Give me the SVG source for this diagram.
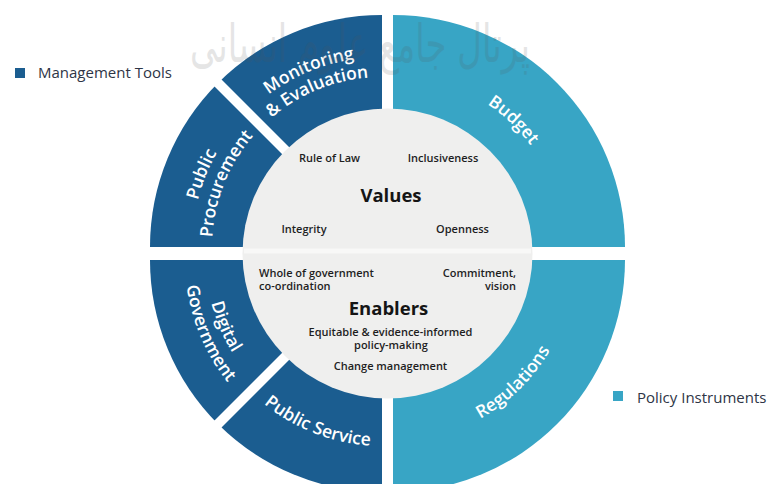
<svg xmlns="http://www.w3.org/2000/svg" width="770" height="484" viewBox="0 0 770 484">
  <style>
    .dark { fill: #1b5d90; }
    .teal { fill: #38a5c5; }
    .gap { stroke: #ffffff; stroke-width: 10; fill: none; }
    .seg { font-family: "Open Sans", "Liberation Sans", sans-serif; font-weight: 600; font-size: 17.5px; fill: #ffffff; }
    .ctr { font-family: "Open Sans", "Liberation Sans", sans-serif; font-weight: 600; font-size: 11px; fill: #1e1e1e; }
    .head { font-family: "Open Sans", "Liberation Sans", sans-serif; font-weight: 700; font-size: 18.5px; fill: #151515; }
    .leg { font-family: "Open Sans", "Liberation Sans", sans-serif; font-size: 15px; fill: #2e3546; }
  </style>
  <defs>
    <path id="pMon1" d="M213.5,159.3 A190,190 0 0 1 439.1,65.8"/>
    <path id="pMon2" d="M231.2,168.5 A170,170 0 0 1 433.1,84.9"/>
    <path id="pPro1" d="M201.3,305.7 A190,190 0 0 1 292.8,79.2"/>
    <path id="pPro2" d="M220.3,299.5 A170,170 0 0 1 302.2,96.9"/>
    <path id="pBud" d="M403.4,76.3 A171,171 0 0 1 562.9,227.6"/>
    <path id="pReg" d="M407.2,440.4 A181,181 0 0 0 573.2,277.3"/>
    <path id="pPub" d="M218.5,348.8 A186,186 0 0 0 441.0,436.4"/>
    <path id="pDig1" d="M213.7,208.5 A176,176 0 0 0 302.1,416.8"/>
    <path id="pDig2" d="M193.6,202.4 A197,197 0 0 0 292.6,435.5"/>
  </defs>

  <rect x="0" y="0" width="770" height="484" fill="#ffffff"/>

  <!-- Segments -->
  <g id="monitoring-evaluation">
    <path class="dark" d="M382,247 L217.95,82.95 A232,232 0 0 1 382,15 Z"/>
  </g>
  <g id="public-procurement">
    <path class="dark" d="M382,247 L150,247 A232,232 0 0 1 217.95,82.95 Z"/>
  </g>
  <g id="budget">
    <path class="teal" d="M393,247 L393,15 A232,232 0 0 1 625,247 Z"/>
  </g>
  <g id="regulations">
    <path class="teal" d="M393,260 L625,260 A232,232 0 0 1 393,492 Z"/>
  </g>
  <g id="public-service">
    <path class="dark" d="M382,260 L382,492 A232,232 0 0 1 217.95,424.05 Z"/>
  </g>
  <g id="digital-government">
    <path class="dark" d="M382,260 L217.95,424.05 A232,232 0 0 1 150,260 Z"/>
  </g>

  <!-- diagonal separators -->
  <g id="separators">
    <line class="gap" x1="382" y1="247" x2="200" y2="65"/>
    <line class="gap" x1="382" y1="260" x2="200" y2="442"/>
  </g>

  <!-- Centre circle -->
  <g id="centre">
    <circle cx="387.5" cy="253.5" r="145" fill="#efefee"/>
    <line x1="244" y1="251" x2="531" y2="251" stroke="#ffffff" stroke-width="5" stroke-opacity="0.55"/>
  </g>

  <!-- Segment labels -->
  <g id="segment-labels">
    <text class="seg"><textPath href="#pMon1" startOffset="50%" text-anchor="middle">Monitoring</textPath></text>
    <text class="seg"><textPath href="#pMon2" startOffset="50%" text-anchor="middle">&amp; Evaluation</textPath></text>
    <text class="seg"><textPath href="#pPro1" startOffset="50%" text-anchor="middle">Public</textPath></text>
    <text class="seg"><textPath href="#pPro2" startOffset="50%" text-anchor="middle">Procurement</textPath></text>
    <text class="seg"><textPath href="#pBud" startOffset="50%" text-anchor="middle">Budget</textPath></text>
    <text class="seg"><textPath href="#pReg" startOffset="50%" text-anchor="middle">Regulations</textPath></text>
    <text class="seg"><textPath href="#pPub" startOffset="50%" text-anchor="middle">Public Service</textPath></text>
    <text class="seg"><textPath href="#pDig1" startOffset="50%" text-anchor="middle">Digital</textPath></text>
    <text class="seg"><textPath href="#pDig2" startOffset="50%" text-anchor="middle">Government</textPath></text>
  </g>

  <!-- Values -->
  <g id="values">
    <text class="head" x="391" y="202" text-anchor="middle">Values</text>
    <text class="ctr" x="329.5" y="162" text-anchor="middle">Rule of Law</text>
    <text class="ctr" x="443" y="162" text-anchor="middle">Inclusiveness</text>
    <text class="ctr" x="304" y="233" text-anchor="middle">Integrity</text>
    <text class="ctr" x="462.5" y="233" text-anchor="middle">Openness</text>
  </g>

  <!-- Enablers -->
  <g id="enablers">
    <text class="head" x="388.5" y="315" text-anchor="middle">Enablers</text>
    <text class="ctr" x="259" y="277">Whole of government</text>
    <text class="ctr" x="259" y="289.5">co-ordination</text>
    <text class="ctr" x="516" y="277" text-anchor="end">Commitment,</text>
    <text class="ctr" x="516" y="289.5" text-anchor="end">vision</text>
    <text class="ctr" x="390.5" y="336" text-anchor="middle">Equitable &amp; evidence-informed</text>
    <text class="ctr" x="391" y="348.5" text-anchor="middle">policy-making</text>
    <text class="ctr" x="390.5" y="370" text-anchor="middle">Change management</text>
  </g>

  <!-- Legend -->
  <g id="legend-management-tools">
    <rect class="dark" x="15" y="68" width="10" height="10"/>
    <text class="leg" x="38" y="78">Management Tools</text>
  </g>
  <g id="legend-policy-instruments">
    <rect class="teal" x="613" y="391" width="10" height="10"/>
    <text class="leg" x="637" y="403">Policy Instruments</text>
  </g>

  <!-- faint watermark -->
  <g id="watermark" opacity="0.15">
    <text x="360" y="62" text-anchor="middle" font-family="DejaVu Sans, sans-serif" font-size="52" fill="#555555" textLength="340" lengthAdjust="spacingAndGlyphs">پرتال جامع علوم انسانی</text>
  </g>
</svg>
